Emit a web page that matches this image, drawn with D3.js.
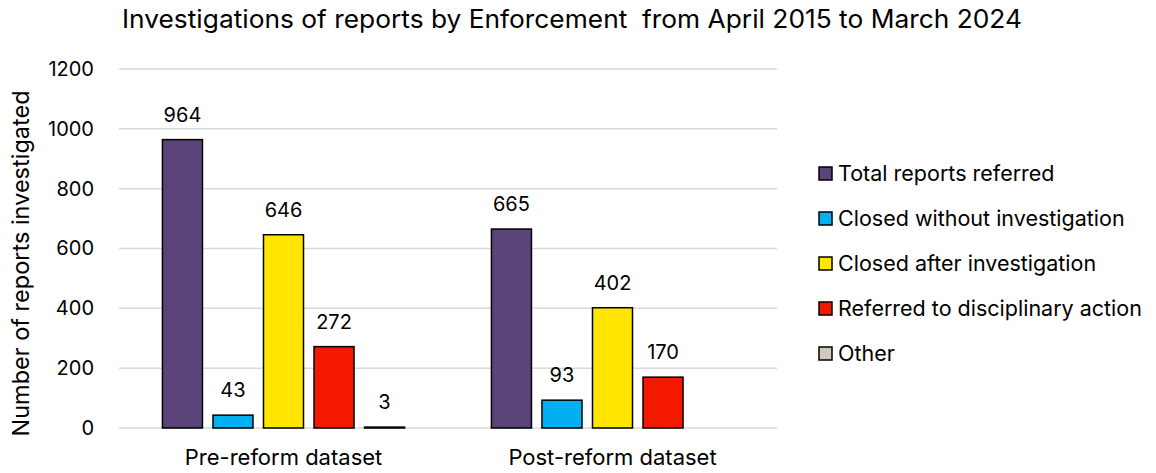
<!DOCTYPE html>
<html>
<head>
<meta charset="utf-8">
<script src="https://cdn.jsdelivr.net/npm/d3@7"></script>
<style>
  html, body { margin: 0; padding: 0; background: #fff; }
  svg { display: block; }
  text { font-family: "Inter", "Liberation Sans", sans-serif; fill: #000; }
</style>
</head>
<body>
<svg id="chart" width="1156" height="473"></svg>
<script>
// Datasets along the x axis
const categories = ["Pre-reform dataset", "Post-reform dataset"];

// Outcome series, one value per dataset (null = not reported)
const seriesNames = [
  "Total reports referred",
  "Closed without investigation",
  "Closed after investigation",
  "Referred to disciplinary action",
  "Other"
];
const totalReferred = [964, 665];
const closedWithout = [43, 93];
const closedAfter = [646, 402];
const disciplinary = [272, 170];
const other = [3, null];

const yTicks = [0, 200, 400, 600, 800, 1000, 1200];
const colors = ["#5B4479", "#00B0F0", "#FFE500", "#F41800", "#CFCABA"];

const seriesValues = [totalReferred, closedWithout, closedAfter, disciplinary, other];

const svg = d3.select("#chart");
const margin = { left: 119, right: 379, top: 69, bottom: 45 };
const W = 1156, H = 473;

const x0 = d3.scaleBand()
  .domain(categories)
  .range([margin.left, W - margin.right])
  .padding(0);

const x1 = d3.scaleBand()
  .domain(seriesNames)
  .range([0, x0.bandwidth()])
  .paddingInner(0.208)
  .paddingOuter(0.86);

const y = d3.scaleLinear()
  .domain([0, 1200])
  .range([H - margin.bottom, margin.top]);

// Horizontal gridlines
svg.append("g")
  .selectAll("line")
  .data(yTicks)
  .join("line")
  .attr("x1", margin.left)
  .attr("x2", W - margin.right)
  .attr("y1", d => y(d))
  .attr("y2", d => y(d))
  .attr("stroke", "#d9d9d9")
  .attr("stroke-width", 1.5);

// Y axis tick labels
const yAxis = d3.axisLeft(y).tickValues(yTicks).tickFormat(d3.format("d")).tickSize(0).tickPadding(0);
const gy = svg.append("g")
  .attr("transform", `translate(${margin.left - 25},0)`)
  .call(yAxis);
gy.select(".domain").remove();
gy.selectAll("text")
  .attr("font-size", 20)
  .attr("font-family", "Inter, 'Liberation Sans', sans-serif")
  .attr("fill", "#000");

// Category axis labels
const xAxis = d3.axisBottom(x0).tickSize(0).tickPadding(0);
const gx = svg.append("g")
  .attr("transform", `translate(0,${H - margin.bottom + 37})`)
  .call(xAxis);
gx.select(".domain").remove();
gx.selectAll("text")
  .attr("font-size", 22)
  .attr("font-family", "Inter, 'Liberation Sans', sans-serif")
  .attr("fill", "#000")
  .attr("dy", "0");

// Flatten into bar records
const bars = [];
categories.forEach((c, ci) => {
  seriesNames.forEach((s, si) => {
    const v = seriesValues[si][ci];
    if (v !== null && v !== undefined) bars.push({ cat: c, series: s, si, value: v });
  });
});

const barG = svg.append("g");
barG.selectAll("rect")
  .data(bars)
  .join("rect")
  .attr("x", d => x0(d.cat) + x1(d.series))
  .attr("y", d => y(d.value))
  .attr("width", x1.bandwidth())
  .attr("height", d => y(0) - y(d.value))
  .attr("fill", d => colors[d.si])
  .attr("stroke", "#000")
  .attr("stroke-width", 1.5);

// Value labels above bars
barG.selectAll("text")
  .data(bars)
  .join("text")
  .attr("x", d => x0(d.cat) + x1(d.series) + x1.bandwidth() / 2)
  .attr("y", d => y(d.value) - 18)
  .attr("text-anchor", "middle")
  .attr("font-size", 20)
  .text(d => d.value);

// Title
svg.append("text")
  .attr("x", 572)
  .attr("y", 28)
  .attr("text-anchor", "middle")
  .attr("font-size", 25)
  .attr("textLength", 900)
  .attr("lengthAdjust", "spacingAndGlyphs")
  .text("Investigations of reports by Enforcement\u00a0 from April 2015 to March 2024");

// Y axis title
svg.append("text")
  .attr("transform", `translate(29,${(y(0) + y(1200)) / 2 + 15}) rotate(-90)`)
  .attr("text-anchor", "middle")
  .attr("font-size", 23.5)
  .text("Number of reports investigated");

// Legend
const legend = svg.append("g").attr("transform", "translate(819,173)");
const rows = legend.selectAll("g")
  .data(seriesNames)
  .join("g")
  .attr("transform", (d, i) => `translate(0,${i * 45})`);
rows.append("rect")
  .attr("x", 0)
  .attr("y", -6)
  .attr("width", 13)
  .attr("height", 13)
  .attr("fill", (d, i) => colors[i])
  .attr("stroke", "#000")
  .attr("stroke-width", 1.5);
rows.append("text")
  .attr("x", 19)
  .attr("y", 8)
  .attr("font-size", 21.5)
  .text(d => d);
</script>
</body>
</html>
